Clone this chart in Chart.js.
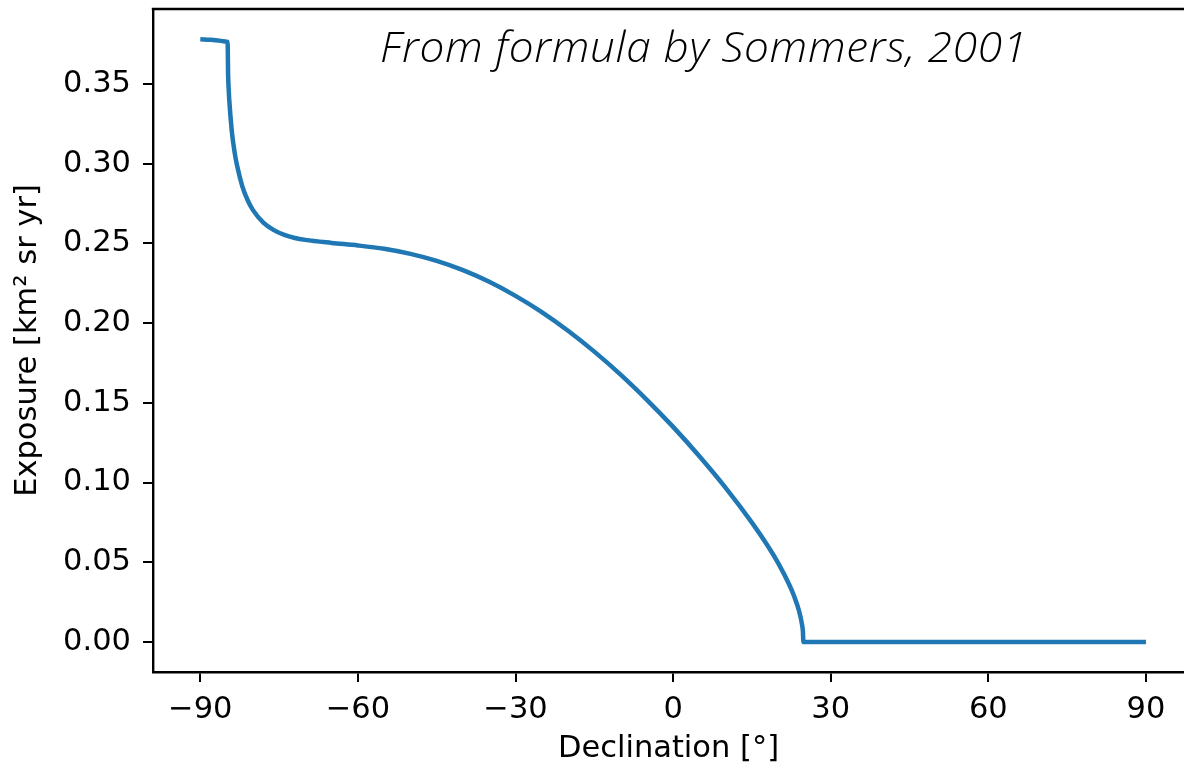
<!DOCTYPE html>
<html>
<head>
<meta charset="utf-8">
<script src="https://cdn.jsdelivr.net/npm/chart.js@4.4.1/dist/chart.umd.min.js"></script>
<style>
  html, body { margin: 0; padding: 0; background: #fff; }
  #wrap { width: 1184px; height: 768px; position: relative; }
</style>
</head>
<body>
<div id="wrap"><canvas id="c"></canvas></div>
<script>
// Declination in degrees
const declination = [
  -90, -88, -86, -85, -84.8, -84.7, -84.6, -84.5, -84, -83.5, -83, -82, -81, -80,
  -78, -76, -74, -72, -70, -65, -60, -55, -50, -45, -40, -35, -30, -25, -20,
  -15, -10, -5, 0, 5, 10, 15, 18, 20, 22, 23, 24, 24.5, 24.7, 24.8, 30, 60, 90
];
// Exposure in km^2 sr yr
const exposure = [
  0.3780, 0.3777, 0.3770, 0.3765, 0.3764, 0.3554, 0.3470, 0.3408, 0.3203, 0.3078, 0.2988, 0.2858, 0.2772, 0.2710,
  0.2630, 0.2583, 0.2553, 0.2534, 0.2522, 0.2503, 0.2487, 0.2466, 0.2434, 0.2390, 0.2332, 0.2259, 0.2171, 0.2069, 0.1952,
  0.1821, 0.1677, 0.1519, 0.1349, 0.1165, 0.0967, 0.0749, 0.0604, 0.0495, 0.0367, 0.0290, 0.0191, 0.0116, 0.0067, 0, 0, 0, 0
];
const xTicks = [-90, -60, -30, 0, 30, 60, 90];
const yTicks = [0, 0.05, 0.10, 0.15, 0.20, 0.25, 0.30, 0.35];
const annotation = 'From formula by Sommers, 2001';

const points = declination.map((d, i) => ({ x: d, y: exposure[i] }));
const tickFont = { family: 'DejaVu Sans', size: 30.5 };

// Top frame line and italic caption
const framePlugin = {
  id: 'frame',
  afterDraw(chart) {
    const { ctx, chartArea } = chart;
    ctx.save();
    ctx.strokeStyle = '#000';
    ctx.lineWidth = 2.4;
    ctx.beginPath();
    ctx.moveTo(chartArea.left - 1.2, chartArea.top);
    ctx.lineTo(chartArea.right, chartArea.top);
    ctx.stroke();

    // caption: slightly widened glyphs, spacing set so it spans 647px
    const widen = 1.05;
    const left = 380, target = 647;
    ctx.fillStyle = '#000';
    ctx.font = 'italic 300 42px "Open Sans"';
    const natural = ctx.measureText(annotation).width;
    const spacing = (target / widen - natural) / (annotation.length - 1);
    if ('letterSpacing' in ctx) ctx.letterSpacing = spacing.toFixed(2) + 'px';
    ctx.textBaseline = 'alphabetic';
    ctx.textAlign = 'left';
    ctx.translate(left, 62);
    ctx.scale(widen, 1);
    ctx.fillText(annotation, 0, 0);
    ctx.restore();
  }
};

function noEdgePadding(s) {
  s.paddingTop = 0; s.paddingBottom = 0; s.paddingLeft = 0; s.paddingRight = 0;
}

new Chart(document.getElementById('c'), {
  type: 'line',
  data: {
    datasets: [{
      data: points,
      borderColor: '#1f77b4',
      borderWidth: 4.5,
      pointRadius: 0,
      fill: false,
      cubicInterpolationMode: 'monotone',
      borderCapStyle: 'butt',
      borderJoinStyle: 'miter'
    }]
  },
  options: {
    responsive: true,
    maintainAspectRatio: false,
    animation: false,
    devicePixelRatio: 1,
    layout: { padding: { top: 9, right: 0, left: 0, bottom: 0 } },
    plugins: { legend: { display: false }, tooltip: { enabled: false } },
    scales: {
      x: {
        type: 'linear',
        min: -99,
        max: 97.24,
        afterFit(s) { s.height = 96; noEdgePadding(s); },
        afterBuildTicks(s) { s.ticks = xTicks.map(v => ({ value: v })); },
        grid: { drawOnChartArea: false, drawTicks: true, tickLength: 10, color: '#000', lineWidth: 2 },
        border: { display: true, color: '#000', width: 2.4 },
        ticks: {
          color: '#000', font: tickFont, padding: 10, maxRotation: 0,
          callback: v => (v < 0 ? '\u2212' + Math.abs(v) : String(v))
        },
        title: {
          display: true, text: 'Declination [°]', color: '#000',
          font: { family: 'DejaVu Sans', size: 30.5 }, padding: { top: 0, bottom: 1 }
        }
      },
      y: {
        type: 'linear',
        min: -0.01882,
        max: 0.3970,
        afterFit(s) { s.width = 153; noEdgePadding(s); },
        afterBuildTicks(s) { s.ticks = yTicks.map(v => ({ value: v })); },
        grid: { drawOnChartArea: false, drawTicks: true, tickLength: 10, color: '#000', lineWidth: 2 },
        border: { display: true, color: '#000', width: 2.4 },
        ticks: {
          color: '#000', font: tickFont, padding: 12,
          callback: v => Number(v).toFixed(2)
        },
        title: {
          display: true, text: 'Exposure [km² sr yr]', color: '#000',
          font: { family: 'DejaVu Sans', size: 30.5 }, padding: { top: 10, bottom: 0 }
        }
      }
    }
  },
  plugins: [framePlugin]
});
</script>
</body>
</html>
